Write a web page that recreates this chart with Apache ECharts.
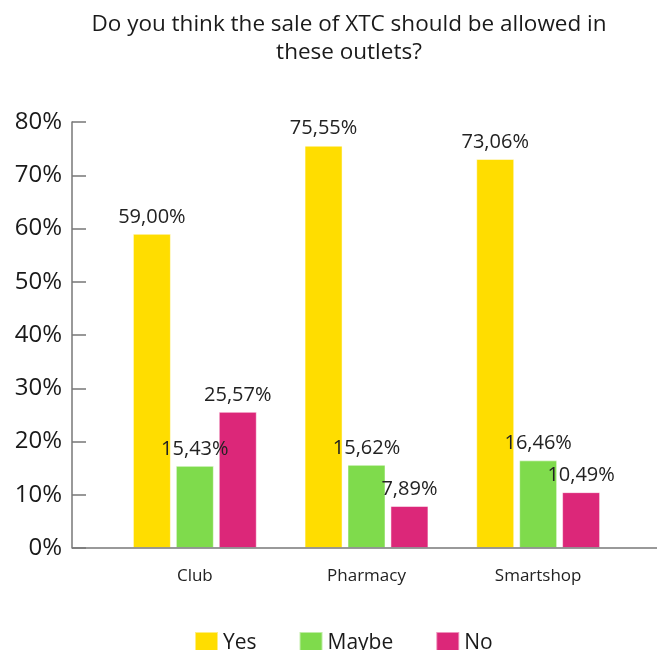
<!DOCTYPE html>
<html>
<head>
<meta charset="utf-8">
<script src="https://cdn.jsdelivr.net/npm/echarts@6/dist/echarts.min.js"></script>
<style>html,body{margin:0;padding:0;background:#fff;}#c{width:657px;height:650px;}</style>
</head>
<body>
<div id="c"></div>
<script>
var categories = ['Club', 'Pharmacy', 'Smartshop'];
var seriesNames = ['Yes', 'Maybe', 'No'];
var yesValues = [59.00, 75.55, 73.06];
var maybeValues = [15.43, 15.62, 16.46];
var noValues = [25.57, 7.89, 10.49];
var yTicks = [0, 10, 20, 30, 40, 50, 60, 70, 80];
var colors = ['#FFDD00', '#7FDB4C', '#DC2779'];

var chart = echarts.init(document.getElementById('c'), null, {renderer: 'canvas'});
function fmt(v) { return v.toFixed(2).replace('.', ',') + '%'; }
function mk(name, data, color) {
  return {
    name: name, type: 'bar', data: data, barWidth: 38, barGap: '13%',
    itemStyle: {color: color, borderColor: 'rgba(255,255,255,0.5)', borderWidth: 1},
    label: {show: true, position: 'top', distance: 7, color: '#222', fontSize: 20,
      fontFamily: 'Open Sans', formatter: function (p) { return fmt(p.value); }}
  };
}
var gridLeft = 109, gridRight = 33, gridTop = 122, gridBottom = 102;
chart.setOption({
  animation: false,
  title: {
    text: 'Do you think the sale of XTC should be allowed in\nthese outlets?',
    left: 344, top: 6, textAlign: 'center',
    textStyle: {fontFamily: 'Open Sans', fontWeight: 'normal', fontSize: 22.5, color: '#1a1a1a', lineHeight: 28}
  },
  legend: {
    data: seriesNames, left: 189, top: 626, itemWidth: 23, itemHeight: 22, itemGap: 42,
    icon: 'rect', textStyle: {fontFamily: 'Open Sans', fontSize: 21, color: '#1a1a1a'}
  },
  grid: {left: gridLeft, right: gridRight, top: gridTop, bottom: gridBottom, containLabel: false},
  xAxis: {
    type: 'category', data: categories,
    axisLine: {show: false}, axisTick: {show: false},
    axisLabel: {margin: 20, fontFamily: 'Open Sans', fontSize: 17, color: '#222'}
  },
  yAxis: {
    type: 'value', min: 0, max: 80, interval: 10, offset: gridLeft - 72,
    axisLine: {show: true, lineStyle: {color: '#777', width: 1.5}},
    axisTick: {show: true, inside: true, length: 14, lineStyle: {color: '#777', width: 1.5}},
    splitLine: {show: false},
    axisLabel: {margin: 10, fontFamily: 'Open Sans', fontSize: 24, color: '#1a1a1a',
      formatter: function (v) { return yTicks.indexOf(v) >= 0 ? v + '%' : ''; }}
  },
  graphic: [{
    type: 'line', z: 10,
    shape: {x1: 72, y1: 650 - gridBottom, x2: 657, y2: 650 - gridBottom},
    style: {stroke: '#777', lineWidth: 1.5}
  }],
  series: [mk(seriesNames[0], yesValues, colors[0]), mk(seriesNames[1], maybeValues, colors[1]), mk(seriesNames[2], noValues, colors[2])]
});
</script>
</body>
</html>
